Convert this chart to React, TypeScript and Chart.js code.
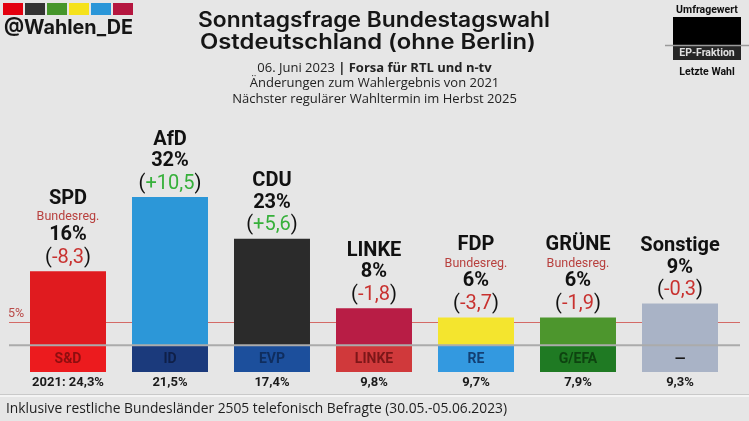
import React, { useEffect, useRef } from "react";
import { Chart, registerables } from "chart.js";

Chart.register(...registerables);

const categories = ["SPD", "AfD", "CDU", "LINKE", "FDP", "GRÜNE", "Sonstige"];
const pollValues = [16, 32, 23, 8, 6, 6, 9];
const changes = [-8.3, 10.5, 5.6, -1.8, -3.7, -1.9, -0.3];
const inGovernment = [true, false, false, false, true, true, false];
const epGroups = ["S&D", "ID", "EVP", "LINKE", "RE", "G/EFA", "—"];
const lastElection = [24.3, 21.5, 17.4, 9.8, 9.7, 7.9, 9.3];
const threshold = 5;

const BAND_DEPTH = -5.8;

const barColors = ["#e01b1f", "#2c97d8", "#2b2b2b", "#b81d45", "#f4e52e", "#4d962d", "#a9b3c6"];
const bandColors = ["#ec1b1e", "#1b3a7c", "#1c4f9c", "#d0393b", "#3399e0", "#1f7a23", "#a9b3c6"];
const bandTextColors = ["#8e0e0f", "#0f1f48", "#0f2d5e", "#7c1618", "#133f73", "#0e4310", "#1a1a1a"];
const logoColors = ["#e3000f", "#333333", "#46962b", "#f5e21c", "#2a96d8", "#b5163f"];

const BG = "#e6e6e6";
const RED = "#c8312f";
const GREEN = "#36b03a";

const fmt = (v: number) => v.toFixed(1).replace(".", ",");

function fitText(ctx: CanvasRenderingContext2D, text: string, x: number, y: number, width: number, align: "left" | "center") {
  const w = ctx.measureText(text).width;
  const s = width / w;
  ctx.save();
  ctx.translate(x, y);
  ctx.scale(s, 1);
  ctx.textAlign = align;
  ctx.fillText(text, 0, 0);
  ctx.restore();
}

const decorPlugin = {
  id: "decor",
  beforeDraw(chart: any) {
    const ctx = chart.ctx as CanvasRenderingContext2D;
    ctx.save();
    ctx.fillStyle = BG;
    ctx.fillRect(0, 0, chart.width, chart.height);
    ctx.restore();
  },
  beforeDatasetsDraw(chart: any) {
    const ctx = chart.ctx as CanvasRenderingContext2D;
    const y = chart.scales.y;
    const yt = Math.round(y.getPixelForValue(threshold)) + 0.5;
    ctx.save();
    ctx.strokeStyle = "#d46a66";
    ctx.lineWidth = 1;
    ctx.beginPath();
    ctx.moveTo(9, yt);
    ctx.lineTo(740, yt);
    ctx.stroke();
    ctx.fillStyle = "#b94a48";
    ctx.font = "12.5px Roboto";
    ctx.textAlign = "left";
    ctx.textBaseline = "middle";
    ctx.fillText(threshold + "%", 8, yt - 9);
    ctx.restore();
  },
  afterDatasetsDraw(chart: any) {
    const ctx = chart.ctx as CanvasRenderingContext2D;
    const yS = chart.scales.y;
    const y0 = yS.getPixelForValue(0);
    const barsMeta = chart.getDatasetMeta(0);
    const bandMeta = chart.getDatasetMeta(1);
    ctx.save();
    ctx.strokeStyle = "#ababab";
    ctx.lineWidth = 2;
    ctx.beginPath();
    ctx.moveTo(9, y0);
    ctx.lineTo(740, y0);
    ctx.stroke();

    ctx.textBaseline = "middle";
    ctx.textAlign = "center";
    barsMeta.data.forEach((bar: any, i: number) => {
      const x = bar.x;
      const top = bar.y;
      const band = bandMeta.data[i];
      const bandMid = (band.base + band.y) / 2;
      ctx.fillStyle = bandTextColors[i];
      ctx.font = "bold 14px Roboto";
      ctx.fillText(epGroups[i], x, bandMid + 1);
      ctx.fillStyle = "#1a1a1a";
      ctx.font = "bold 13px Roboto";
      ctx.fillText((i === 0 ? "2021: " : "") + fmt(lastElection[i]) + "%", x, band.y + 11);

      const ch = changes[i];
      const chText = (ch > 0 ? "+" : "") + fmt(ch);
      ctx.font = "20px Roboto";
      const wp = ctx.measureText("(").width;
      const wc = ctx.measureText(chText).width;
      const wq = ctx.measureText(")").width;
      const total = wp + wc + wq;
      const cx = x - total / 2;
      const cy = top - 13.5;
      ctx.textAlign = "left";
      ctx.fillStyle = "#111";
      ctx.fillText("(", cx, cy);
      ctx.fillStyle = ch > 0 ? GREEN : RED;
      ctx.fillText(chText, cx + wp, cy);
      ctx.fillStyle = "#111";
      ctx.fillText(")", cx + wp + wc, cy);
      ctx.textAlign = "center";

      ctx.fillStyle = "#111";
      ctx.font = "bold 20px Roboto";
      ctx.fillText(pollValues[i] + "%", x, top - 36);
      if (inGovernment[i]) {
        ctx.fillStyle = "#b8403e";
        ctx.font = "12.5px Roboto";
        ctx.fillText("Bundesreg.", x, top - 54);
        ctx.fillStyle = "#111";
        ctx.font = "bold 20px Roboto";
        ctx.fillText(categories[i], x, top - 72);
      } else {
        ctx.fillStyle = "#111";
        ctx.font = "bold 20px Roboto";
        ctx.fillText(categories[i], x, top - 57.5);
      }
    });
    ctx.restore();
  },
  afterDraw(chart: any) {
    const ctx = chart.ctx as CanvasRenderingContext2D;
    ctx.save();
    logoColors.forEach((c, i) => {
      ctx.fillStyle = c;
      ctx.fillRect(3 + i * 22, 3, 20, 12);
    });
    ctx.fillStyle = "#161616";
    ctx.textBaseline = "middle";
    ctx.font = "bold 20px Inter";
    fitText(ctx, "@Wahlen_DE", 4, 28, 129, "left");

    ctx.fillStyle = "#161616";
    ctx.font = "600 21px Inter";
    fitText(ctx, "Sonntagsfrage Bundestagswahl", 374, 20.5, 352, "center");
    fitText(ctx, "Ostdeutschland (ohne Berlin)", 368, 43, 336, "center");

    ctx.fillStyle = "#222";
    const a = "06. Juni 2023 ";
    const b = "| Forsa für RTL und n-tv";
    ctx.font = "13px 'Open Sans'";
    const wa = ctx.measureText(a).width;
    ctx.font = "bold 13px 'Open Sans'";
    const wb = ctx.measureText(b).width;
    const sx = 374.5 - (wa + wb) / 2;
    ctx.textAlign = "left";
    ctx.font = "13px 'Open Sans'";
    ctx.fillText(a, sx, 68);
    ctx.font = "bold 13px 'Open Sans'";
    ctx.fillText(b, sx + wa, 68);
    ctx.textAlign = "center";
    ctx.font = "13px 'Open Sans'";
    ctx.fillText("Änderungen zum Wahlergebnis von 2021", 374.5, 83.5);
    ctx.fillText("Nächster regulärer Wahltermin im Herbst 2025", 374.5, 99);

    ctx.fillStyle = "#111";
    ctx.font = "bold 10.5px Roboto";
    ctx.textAlign = "center";
    ctx.fillText("Umfragewert", 707, 10);
    ctx.fillStyle = "#000";
    ctx.fillRect(673, 17, 68, 28);
    ctx.fillStyle = "#262626";
    ctx.fillRect(673, 46, 68, 14);
    ctx.strokeStyle = "#9a9a9a";
    ctx.lineWidth = 1.5;
    ctx.beginPath();
    ctx.moveTo(665, 45.5);
    ctx.lineTo(749, 45.5);
    ctx.stroke();
    ctx.fillStyle = "#e0e0e0";
    ctx.font = "bold 10.5px Roboto";
    ctx.fillText("EP-Fraktion", 707, 53.5);
    ctx.fillStyle = "#111";
    ctx.fillText("Letzte Wahl", 707, 72);

    ctx.fillStyle = "#c9c9c9";
    ctx.fillRect(0, 394, 749, 1);
    ctx.fillStyle = "#f4f4f4";
    ctx.fillRect(0, 395, 749, 2);
    ctx.fillStyle = "#1e1e1e";
    ctx.font = "15px 'Open Sans'";
    fitText(ctx, "Inklusive restliche Bundesländer 2505 telefonisch Befragte (30.05.-05.06.2023)", 6, 408.5, 501, "left");
    ctx.restore();
  },
};

export default function App() {
  const ref = useRef<HTMLCanvasElement>(null);
  useEffect(() => {
    if (!ref.current) return;
    const chart = new Chart(ref.current, {
      type: "bar",
      data: {
        labels: categories,
        datasets: [
          {
            data: pollValues,
            backgroundColor: barColors,
            barPercentage: 0.745,
            categoryPercentage: 1,
            borderWidth: 0,
          },
          {
            data: categories.map(() => BAND_DEPTH),
            backgroundColor: bandColors,
            barPercentage: 0.745,
            categoryPercentage: 1,
            borderWidth: 0,
          },
        ],
      },
      options: {
        responsive: false,
        animation: false,
        layout: { padding: { left: 17, right: 18, top: 160, bottom: 48 } },
        scales: {
          x: { display: false, stacked: true },
          y: { display: false, stacked: true, min: -6, max: 40 },
        },
        plugins: { legend: { display: false }, tooltip: { enabled: false }, title: { display: false } },
      },
      plugins: [decorPlugin],
    } as any);
    return () => chart.destroy();
  }, []);
  return (
    <div style={{ position: "fixed", left: 0, top: 0, width: 749, height: 421 }}>
      <canvas ref={ref} width={749} height={421} style={{ display: "block" }} />
    </div>
  );
}
